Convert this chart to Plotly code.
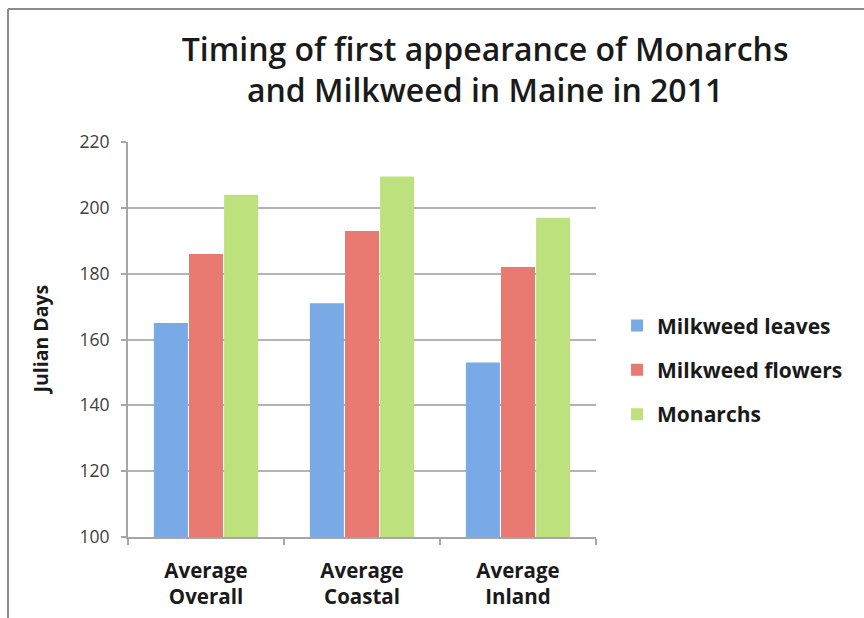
import plotly.graph_objects as go

categories = ["Average<br>Overall", "Average<br>Coastal", "Average<br>Inland"]
series_names = ["Milkweed leaves", "Milkweed flowers", "Monarchs"]
leaves = [165, 171, 153]
flowers = [186, 193, 182]
monarchs = [204, 209.5, 197]
colors = ["#79aae6", "#e97a72", "#bde17c"]

fig = go.Figure()
for i, (name, vals) in enumerate(zip(series_names, [leaves, flowers, monarchs])):
    fig.add_trace(go.Bar(
        x=categories, y=vals, name=name, legendgroup=f"g{i}",
        marker=dict(color=colors[i], line=dict(width=0)),
    ))

L, R, T, B = 128, 268, 142, 81
FONT = "Open Sans, sans-serif"
fig.update_layout(
    width=864, height=618,
    margin=dict(l=L, r=R, t=T, b=B, autoexpand=False),
    paper_bgcolor="white", plot_bgcolor="white",
    barmode="group", bargap=0.325, bargroupgap=0.03,
    font=dict(family=FONT, color="#222"),
    title=dict(
        text="Timing of first appearance of Monarchs<br>and Milkweed in Maine in 2011",
        x=0.763, xref="paper", xanchor="center",
        y=0.902, yref="container", yanchor="middle",
        font=dict(size=32, family=FONT, color="#1a1a1a", weight=600),
    ),
    legend=dict(
        x=1.045, xanchor="left", y=0.423, yanchor="middle",
        traceorder="grouped", tracegroupgap=14,
        font=dict(size=21, color="#1a1a1a", weight="bold"),
        bgcolor="rgba(0,0,0,0)",
    ),
    xaxis=dict(
        automargin=False,
        showline=True, linecolor="#a6a6a6", linewidth=2,
        ticks="outside", tickson="boundaries", ticklen=6, tickcolor="#a6a6a6", tickwidth=2,
        tickfont=dict(size=20.5, color="#1a1a1a", weight="bold"),
        ticklabelstandoff=14,
        showgrid=False,
    ),
    yaxis=dict(
        automargin=False,
        range=[100, 220], dtick=20, tick0=100,
        showline=True, linecolor="#a6a6a6", linewidth=2,
        ticks="outside", ticklen=5, tickcolor="#a6a6a6", tickwidth=2,
        showgrid=True, gridcolor="#b3b3b3", gridwidth=2,
        tickfont=dict(size=17.5, color="#404040"),
        ticklabelstandoff=8,
        zeroline=False,
    ),
    annotations=[dict(
        text="Julian Days", textangle=-90, showarrow=False,
        xref="paper", yref="paper", x=-0.188, y=0.5,
        xanchor="center", yanchor="middle",
        font=dict(size=19.5, color="#1a1a1a", weight="bold"),
    )],
)

pw = 864 - L - R
ph = 618 - T - B
fx = lambda px: (px - L) / pw
fy = lambda py: (618 - B - py) / ph
fig.add_shape(type="line", xref="paper", yref="paper",
              x0=fx(8), x1=fx(870), y0=fy(9), y1=fy(9),
              line=dict(color="#8c8c8c", width=2))
fig.add_shape(type="line", xref="paper", yref="paper",
              x0=fx(8), x1=fx(8), y0=fy(9), y1=fy(625),
              line=dict(color="#8c8c8c", width=2))

fig.write_html("out.html")
